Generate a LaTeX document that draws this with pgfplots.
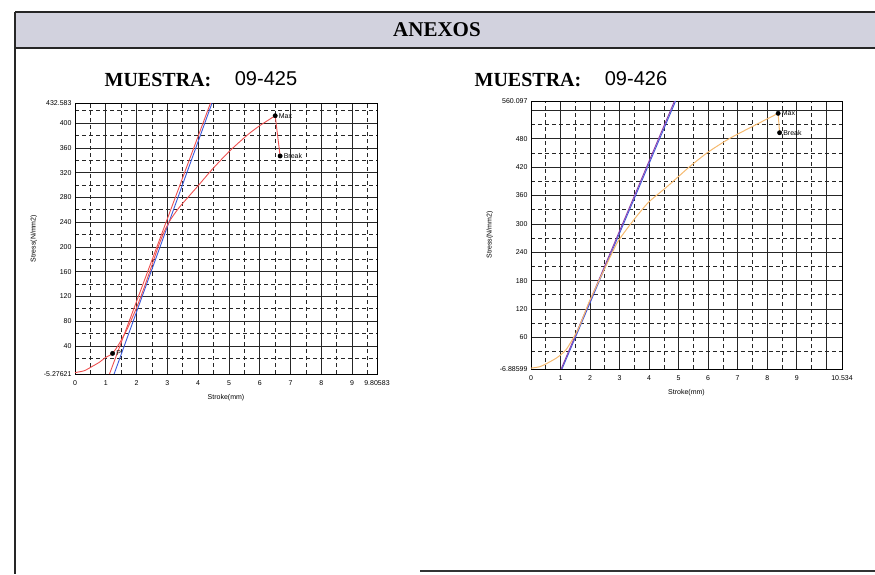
\documentclass[border=0pt]{standalone}
\usepackage{fontspec}
\setmainfont{Liberation Sans}
\newfontfamily\timesfont{Liberation Serif}
\usepackage{pgfplots}
\pgfplotsset{compat=1.18}

\definecolor{hdrgray}{RGB}{210,210,222}
\definecolor{curvered}{RGB}{238,80,80}
\definecolor{fitblue}{RGB}{60,90,220}
\definecolor{fitpurple}{RGB}{140,60,170}
\definecolor{curveorange}{RGB}{245,185,110}

\tikzset{pointlabel/.style={anchor=west, font=\fontsize{7}{8}\selectfont, xshift=3pt, inner sep=0.5pt}}

\pgfplotsset{
  testgraph/.style={
    scale only axis,
    axis line style={black, line width=0.9pt},
    major tick length=0pt, minor tick length=0pt,
    grid=both,
    major grid style={black!85, line width=0.8pt},
    minor grid style={black!85, line width=0.7pt, dash pattern=on 4pt off 3pt},
    tick label style={font=\fontsize{7}{8}\selectfont},
    xticklabel style={yshift=-3pt},
    label style={font=\fontsize{7}{8}\selectfont},
    /pgf/number format/assume math mode=true,
    clip=false,
  },
}

\begin{document}
\begin{tikzpicture}
\useasboundingbox (0pt,0pt) rectangle (875pt,574pt);
% header band and frame
\fill[hdrgray] (15pt,526pt) rectangle (875pt,561pt);
\draw[line width=2.5pt, black!85] (15pt,562pt) -- (875pt,562pt);
\draw[line width=2.5pt, black!85] (15pt,526pt) -- (875pt,526pt);
\draw[line width=2.5pt, black!85] (15pt,562pt) -- (15pt,0pt);
\draw[line width=2pt, black!80] (420pt,3pt) -- (875pt,3pt);
\node[font=\timesfont\bfseries\fontsize{21}{24}\selectfont] at (437pt,544pt) {ANEXOS};

\node[font=\timesfont\bfseries\fontsize{20}{24}\selectfont] at (158pt,494pt) {MUESTRA:};
\node[font=\fontsize{20}{24}\selectfont] at (266pt,495pt) {09-425};
\node[font=\timesfont\bfseries\fontsize{20}{24}\selectfont] at (528pt,494pt) {MUESTRA:};
\node[font=\fontsize{20}{24}\selectfont] at (636pt,495pt) {09-426};

% ---- muestra 09-425
\begin{axis}[
  testgraph,
  at={(75pt,200pt)}, anchor=south west,
  width=302pt, height=271pt,
  xmin=0, xmax=9.80583,
  ymin=-5.27621, ymax=432.583,
  xtick={0,1,2,3,4,5,6,7,8,9,9.80583},
  xticklabels={0,1,2,3,4,5,6,7,8,9,9.80583},
  minor xtick={0.5,1.5,2.5,3.5,4.5,5.5,6.5,7.5,8.5,9.5},
  ytick={-5.27621,40,80,120,160,200,240,280,320,360,400,432.583},
  yticklabels={-5.27621,40,80,120,160,200,240,280,320,360,400,432.583},
  minor ytick={20,60,100,140,180,220,260,300,340,380,420},
  xlabel={Stroke(mm)},
  ylabel={Stress(N/mm2)},
  xlabel style={yshift=-2pt},
]
\addplot[fitblue, line width=0.9pt] coordinates {(1.27,-5.27621) (4.45,432.583)};
\addplot[curvered, line width=0.9pt] coordinates {(1.12,-5.27621) (4.40,432.583)};
\addplot[curvered, line width=0.9pt, smooth, tension=0.4] coordinates {
  (0,-3) (0.3,0) (0.56,7) (0.8,14) (0.98,21) (1.22,28) (1.45,45) (1.7,68)
  (2.0,102) (2.25,135) (2.48,168) (2.7,200) (2.9,225) (3.1,244) (3.37,263)
  (3.7,282) (4.0,299) (4.43,324) (5.0,354) (5.6,381) (6.0,396) (6.5,412)};
\addplot[curvered, line width=0.9pt] coordinates {(6.5,412) (6.66,347)};
\addplot[only marks, mark=*, mark size=2.2pt, black,
  nodes near coords, point meta=explicit symbolic,
  every node near coord/.style={pointlabel}]
  coordinates {(1.22,28)[P] (6.5,412)[Max] (6.66,347)[Break]};
\end{axis}

% ---- muestra 09-426
\begin{axis}[
  testgraph,
  at={(531pt,205pt)}, anchor=south west,
  width=311pt, height=268pt,
  xmin=0, xmax=10.534,
  ymin=-6.88599, ymax=560.097,
  xtick={0,1,2,3,4,5,6,7,8,9,10,10.534},
  xticklabels={0,1,2,3,4,5,6,7,8,9,,10.534},
  minor xtick={0.5,1.5,2.5,3.5,4.5,5.5,6.5,7.5,8.5,9.5},
  ytick={-6.88599,60,120,180,240,300,360,420,480,540,560.097},
  yticklabels={-6.88599,60,120,180,240,300,360,420,480,,560.097},
  minor ytick={30,90,150,210,270,330,390,450,510},
  xlabel={Stroke(mm)},
  ylabel={Stress(N/mm2)},
  xlabel style={yshift=-2pt},
]
\addplot[fitblue, line width=0.9pt] coordinates {(1.05,-6.88599) (4.90,560.097)};
\addplot[fitpurple, line width=0.9pt] coordinates {(1.02,-6.88599) (4.86,560.097)};
\addplot[curveorange, line width=1pt, smooth, tension=0.4] coordinates {
  (0,-5) (0.3,-2) (0.6,7) (0.9,18) (1.2,35) (1.6,78) (1.97,135) (2.4,193)
  (2.9,258) (3.23,288) (3.6,318) (4.0,347) (4.63,380) (5.37,421) (6.0,452)
  (6.73,481) (7.65,511) (8.37,534)};
\addplot[curveorange, line width=1pt] coordinates {(8.37,534) (8.42,493)};
\addplot[only marks, mark=*, mark size=2.2pt, black,
  nodes near coords, point meta=explicit symbolic,
  every node near coord/.style={pointlabel}]
  coordinates {(8.37,534)[Max] (8.42,493)[Break]};
\end{axis}
\end{tikzpicture}
\end{document}
